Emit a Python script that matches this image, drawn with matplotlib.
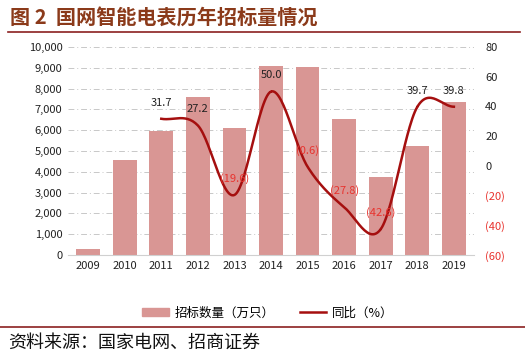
import numpy as np
import matplotlib.pyplot as plt
from matplotlib.lines import Line2D
from matplotlib.patches import Patch

plt.rcParams['font.family'] = ['Noto Sans CJK SC', 'DejaVu Sans']

years = ['2009', '2010', '2011', '2012', '2013', '2014', '2015', '2016', '2017', '2018', '2019']
volume = [300, 4550, 5980, 7600, 6100, 9100, 9050, 6550, 3760, 5260, 7360]
yoy_years = ['2011', '2012', '2013', '2014', '2015', '2016', '2017', '2018', '2019']
yoy = [31.7, 27.2, -19.6, 50.0, -0.6, -27.8, -42.6, 39.7, 39.8]

BAR = '#D99694'
LINE = '#A50F0F'
RED = '#E8332E'
TITLE = '#8B3A1A'


def smooth(x, y, n=30):
    # catmull-rom curve through the points, like excel's smoothed line
    x = np.asarray(x, float)
    y = np.asarray(y, float)
    px = np.concatenate([[2 * x[0] - x[1]], x, [2 * x[-1] - x[-2]]])
    py = np.concatenate([[2 * y[0] - y[1]], y, [2 * y[-1] - y[-2]]])
    xs, ys = [], []
    t = np.linspace(0, 1, n)
    for i in range(1, len(px) - 2):
        for p, out in ((px, xs), (py, ys)):
            p0, p1, p2, p3 = p[i - 1], p[i], p[i + 1], p[i + 2]
            out.extend(0.5 * ((2 * p1) + (-p0 + p2) * t
                              + (2 * p0 - 5 * p1 + 4 * p2 - p3) * t ** 2
                              + (-p0 + 3 * p1 - 3 * p2 + p3) * t ** 3))
    return xs, ys


fig = plt.figure(figsize=(5.25, 3.6), dpi=100)
ax = fig.add_axes([68 / 525, 1 - 255 / 360, 406 / 525, 208 / 360])

xpos = np.arange(len(years))
ax.bar(xpos, volume, width=0.65, color=BAR, zorder=2)
ax.set_ylim(0, 10000)
ax.set_xlim(-0.55, len(years) - 0.45)
ax.set_yticks(range(0, 10001, 1000))
ax.set_yticklabels([f'{v:,}' for v in range(0, 10001, 1000)], fontsize=8, color='#222222')
ax.set_xticks(xpos)
ax.set_xticklabels(years, fontsize=8, color='#222222')
ax.grid(axis='y', color='#C8C8C8', linestyle=(0, (6, 3, 1, 3)), linewidth=0.7, zorder=0)
for s in ['top', 'right', 'left']:
    ax.spines[s].set_visible(False)
ax.spines['bottom'].set_color('#D0D0D0')
ax.tick_params(length=0, pad=4)

ax2 = ax.twinx()
ax2.set_ylim(-60, 80)
ticks2 = list(range(-60, 81, 20))
ax2.set_yticks(ticks2)
ax2.set_yticklabels([f'({-v})' if v < 0 else str(v) for v in ticks2], fontsize=8)
for lbl, v in zip(ax2.get_yticklabels(), ticks2):
    lbl.set_color(RED if v < 0 else '#222222')
for s in ax2.spines.values():
    s.set_visible(False)
ax2.tick_params(length=0, pad=8)

lx = [years.index(y) for y in yoy_years]
sx, sy = smooth(lx, yoy)
ax2.plot(sx, sy, color=LINE, linewidth=1.8, zorder=3)
for x, v in zip(lx, yoy):
    txt = f'{v:.1f}' if v >= 0 else f'({-v:.1f})'
    ax2.annotate(txt, (x, v), xytext=(0, 8), textcoords='offset points', ha='center',
                 va='bottom', fontsize=8, color='#222222' if v >= 0 else RED, zorder=4)

fig.text(10 / 525, 1 - 18 / 360, '图 2  国网智能电表历年招标量情况', fontsize=14.5,
         fontweight='bold', color=TITLE, va='center')
fig.add_artist(Line2D([8 / 525, 520 / 525], [1 - 32 / 360] * 2, color='#8B2020', linewidth=1.2))
fig.add_artist(Line2D([0, 1], [1 - 327 / 360] * 2, color='#8B2020', linewidth=1.2))

handles = [Patch(color=BAR), Line2D([], [], color=LINE, linewidth=1.8)]
fig.legend(handles, ['招标数量（万只）', '同比（%）'], loc='center',
           bbox_to_anchor=(268 / 525, 1 - 313 / 360), ncol=2, frameon=False,
           fontsize=9, handlelength=2.1, handleheight=0.6, columnspacing=2.0, handletextpad=0.5)

fig.text(8 / 525, 1 - 343 / 360, '资料来源：国家电网、招商证券', fontsize=13, color='#111111', va='center')

fig.savefig('out.png', dpi=100)
